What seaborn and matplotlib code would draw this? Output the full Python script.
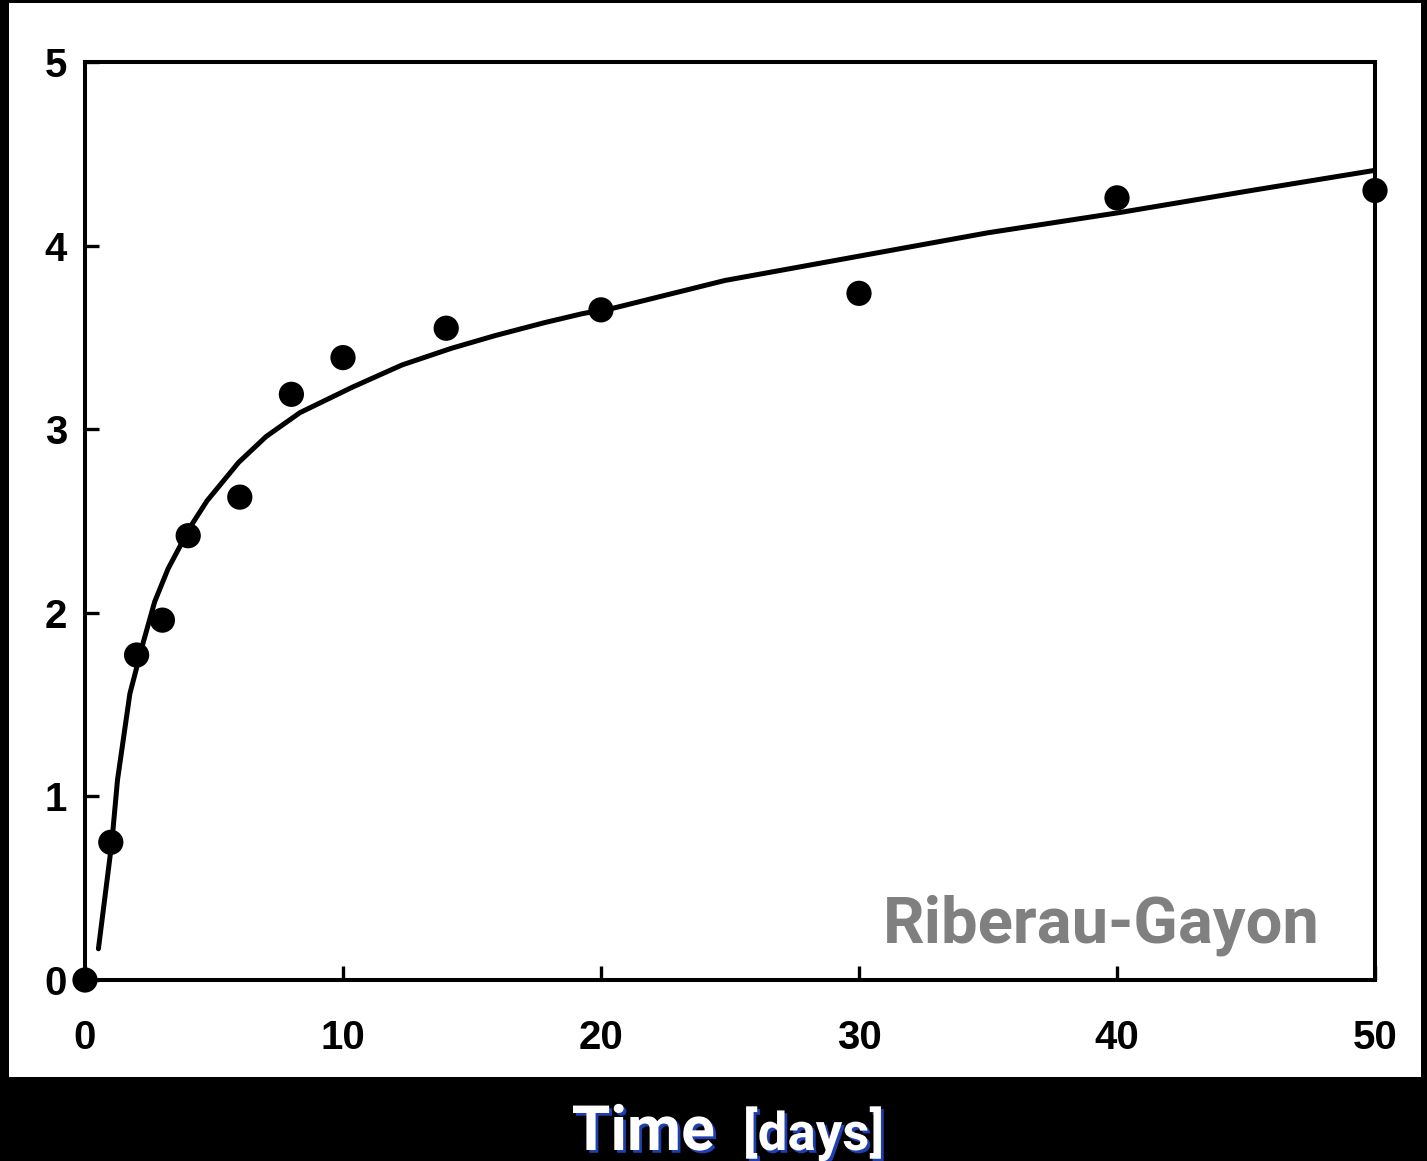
import matplotlib
matplotlib.use("Agg")
import matplotlib.pyplot as plt
import matplotlib.patheffects as pe
from matplotlib.patches import Rectangle
import pandas as pd
import seaborn as sns

# measured points
days = [0, 1, 2, 3, 4, 6, 8, 10, 14, 20, 30, 40, 50]
measured = [0.0, 0.75, 1.77, 1.96, 2.42, 2.63, 3.19, 3.39, 3.55, 3.65, 3.74, 4.26, 4.30]

# fitted curve
fit_days = [0.52, 1.04, 1.26, 1.74, 2.26, 2.70, 3.22, 4.09, 4.73, 5.96, 7.02, 8.33,
            10.38, 12.29, 14.19, 15.9, 17.8, 19.3, 20.5, 24.8, 29.9, 35.0, 40.1, 45.2, 50.0]
fit_vals = [0.17, 0.75, 1.09, 1.56, 1.84, 2.06, 2.24, 2.47, 2.61, 2.82, 2.96, 3.09,
            3.23, 3.35, 3.44, 3.51, 3.58, 3.63, 3.66, 3.81, 3.94, 4.07, 4.18, 4.30, 4.41]

x_ticks = [0, 10, 20, 30, 40, 50]
y_ticks = [0, 1, 2, 3, 4, 5]

pts = pd.DataFrame({"day": days, "value": measured})
fit = pd.DataFrame({"day": fit_days, "value": fit_vals})

sns.set_style("white")

fig = plt.figure(figsize=(14.27, 11.61), dpi=100, facecolor="black")
fig.add_artist(Rectangle((9 / 1427, 1 - 1077 / 1161), 1412 / 1427, 1074 / 1161,
                         transform=fig.transFigure, facecolor="white", edgecolor="none", zorder=0))

ax = fig.add_axes([85 / 1427, 1 - 980 / 1161, 1290 / 1427, 918 / 1161])
ax.set_facecolor("white")

sns.lineplot(data=fit, x="day", y="value", ax=ax, color="black", linewidth=3.6, sort=False)
sns.scatterplot(data=pts, x="day", y="value", ax=ax, color="black", s=330,
                edgecolor="none", clip_on=False, zorder=5)

ax.set_xlim(0, 50)
ax.set_ylim(0, 5)
ax.set_xticks(x_ticks)
ax.set_yticks(y_ticks)
ax.set_xlabel("")
ax.set_ylabel("")

for s in ax.spines.values():
    s.set_color("black")
    s.set_linewidth(2.9)

ax.tick_params(axis="both", direction="in", length=10, width=2.4, color="black",
               labelcolor="black", bottom=True, left=True)
ax.tick_params(axis="x", pad=28)
ax.tick_params(axis="y", pad=13)
for lab in ax.get_xticklabels() + ax.get_yticklabels():
    lab.set_fontfamily("Liberation Sans")
    lab.set_fontweight("bold")
    lab.set_fontsize(29)

fig.text(883 / 1427, 1 - 942 / 1161, "Riberau-Gayon", family="Roboto", weight="bold",
         fontsize=47, color="#808080", ha="left", va="baseline")

shadow = [pe.withSimplePatchShadow(offset=(2, -2), shadow_rgbFace="#1f3fb0", alpha=1.0)]
fig.text(715 / 1427, 1 - 1150 / 1161, "Time", family="Roboto", weight="bold",
         fontsize=45, color="white", ha="right", va="baseline", path_effects=shadow)
fig.text(743 / 1427, 1 - 1150 / 1161, "[days]", family="Roboto", weight="bold",
         fontsize=38, color="white", ha="left", va="baseline", path_effects=shadow)

fig.savefig("out.png", dpi=100, facecolor="black")
